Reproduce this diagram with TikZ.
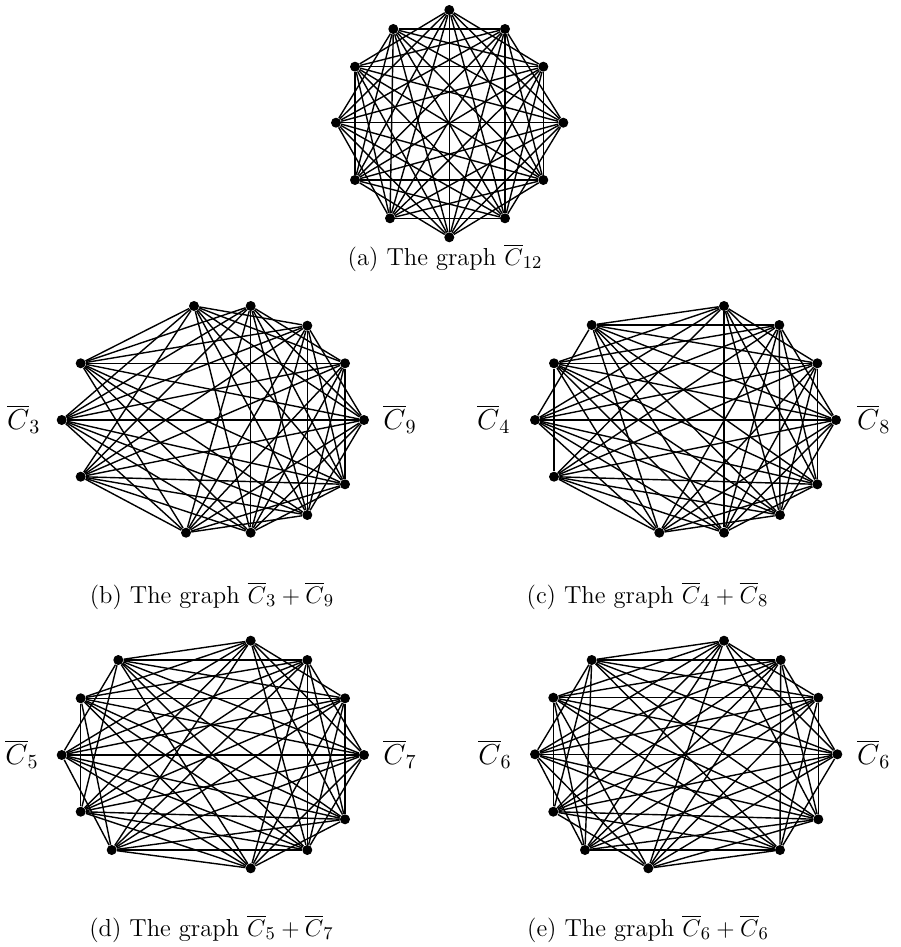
\documentclass[tikz,border=0pt]{standalone}
\tikzset{
  vtx/.style={circle,fill=black,draw=none,inner sep=0pt,minimum size=5pt},
  edge/.style={line width=0.7pt,black},
  captext/.style={anchor=base,inner sep=0pt,font=\fontsize{12.3}{14}\selectfont},
  sidelab/.style={anchor=base west,inner sep=0pt,font=\fontsize{14.4}{17}\selectfont},
}
\newcommand{\drawCompJoin}[3]{%
  \pgfmathtruncatemacro{\cjm}{#2-1}%
  \pgfmathtruncatemacro{\cjn}{#3-1}%
  \foreach \i in {0,...,\cjm}{\foreach \j in {0,...,\cjn}{\draw[edge] (#1L\i) -- (#1R\j);}}%
  \foreach \i in {0,...,\cjm}{\foreach \j in {0,...,\cjm}{%
    \pgfmathtruncatemacro{\cjd}{\j-\i}%
    \ifnum\cjd>1 \ifnum\cjd<\cjm \draw[edge] (#1L\i) -- (#1L\j);\fi\fi}}%
  \foreach \i in {0,...,\cjn}{\foreach \j in {0,...,\cjn}{%
    \pgfmathtruncatemacro{\cjd}{\j-\i}%
    \ifnum\cjd>1 \ifnum\cjd<\cjn \draw[edge] (#1R\i) -- (#1R\j);\fi\fi}}%
}
\begin{document}
\begin{tikzpicture}[x=0.5pt,y=-0.5pt]
\useasboundingbox (0,0) rectangle (900,947);

% (a) complement of C12
\foreach \x/\y [count=\c from 0] in {449.3/10, 505/29, 543.3/66.7, 563.3/122.7, 543.3/180, 505/218.3, 449.3/237.3, 390/218.3, 355/180, 336/122.7, 355/66.7, 393.3/29}
  \node[vtx] (a\c) at (\x,\y) {};
\foreach \i in {0,...,11}{
  \foreach \k in {2,...,5}{
    \pgfmathtruncatemacro{\jj}{mod(\i+\k,12)}
    \draw[edge] (a\i) -- (a\jj);
  }
}
\foreach \i in {0,...,5}{
  \pgfmathtruncatemacro{\jj}{\i+6}
  \draw[edge] (a\i) -- (a\jj);
}
\node[captext] (capa) at (445,265) {(a) The graph $\overline{C}_{12}$};

% (b) C3 + C9
\foreach \x/\y [count=\c from 0] in {80.7/363.3, 61.7/420, 80.7/476.7}
  \node[vtx] (bL\c) at (\x,\y) {};
\foreach \x/\y [count=\c from 0] in {194/306, 250.7/306, 307.3/325.7, 345/363.3, 364/420, 345/484.3, 307.3/515, 250.7/532.7, 186/532.7}
  \node[vtx] (bR\c) at (\x,\y) {};
\drawCompJoin{b}{3}{9}
\node[sidelab] (labb1) at (6.7,429) {$\overline{C}_3$};
\node[sidelab] (labb2) at (383,429) {$\overline{C}_9$};
\node[captext] (capb) at (212,603) {(b) The graph $\overline{C}_3+\overline{C}_9$};

% (c) C4 + C8
\foreach \x/\y [count=\c from 0] in {591.7/325, 554/363.3, 535/420, 554/476.7}
  \node[vtx] (cL\c) at (\x,\y) {};
\foreach \x/\y [count=\c from 0] in {724/306, 779.3/325, 817.3/363.3, 836/420, 817.3/484.3, 780/515, 724/532.7, 659.3/532.7}
  \node[vtx] (cR\c) at (\x,\y) {};
\drawCompJoin{c}{4}{8}
\node[sidelab] (labc1) at (476.7,429) {$\overline{C}_4$};
\node[sidelab] (labc2) at (856.7,429) {$\overline{C}_8$};
\node[captext] (capc) at (647.5,603) {(c) The graph $\overline{C}_4+\overline{C}_8$};

% (d) C5 + C7
\foreach \x/\y [count=\c from 0] in {118.3/660, 80.7/698.3, 61.7/755, 80.7/811.7, 111.7/850}
  \node[vtx] (dL\c) at (\x,\y) {};
\foreach \x/\y [count=\c from 0] in {250.7/640.7, 307.3/660, 345/698.3, 364/755, 345/819.3, 307.3/850, 250.7/868.3}
  \node[vtx] (dR\c) at (\x,\y) {};
\drawCompJoin{d}{5}{7}
\node[sidelab] (labd1) at (5,764) {$\overline{C}_5$};
\node[sidelab] (labd2) at (383,764) {$\overline{C}_7$};
\node[captext] (capd) at (211.5,936) {(d) The graph $\overline{C}_5+\overline{C}_7$};

% (e) C6 + C6
\foreach \x/\y [count=\c from 0] in {591.7/660, 553.3/697.7, 535/754.3, 553.3/811.7, 585/850, 648.3/868.3}
  \node[vtx] (eL\c) at (\x,\y) {};
\foreach \x/\y [count=\c from 0] in {724/640.7, 780.7/660, 818.3/697.7, 837.3/754.3, 818.3/819.3, 780/850}
  \node[vtx] (eR\c) at (\x,\y) {};
\drawCompJoin{e}{6}{6}
\node[sidelab] (labe1) at (478,764) {$\overline{C}_6$};
\node[sidelab] (labe2) at (856.7,764) {$\overline{C}_6$};
\node[captext] (cape) at (648,936) {(e) The graph $\overline{C}_6+\overline{C}_6$};
\end{tikzpicture}
\end{document}
